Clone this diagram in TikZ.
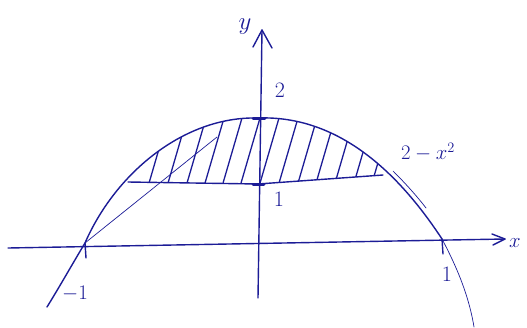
\documentclass[tikz,border=0pt]{standalone}
\definecolor{ink}{RGB}{28,28,150}
\begin{document}
\begin{tikzpicture}[x=1pt,y=-1pt,
  inkline/.style={draw=ink, line width=1.4pt, line cap=round, line join=round},
  thinink/.style={draw=ink, line width=0.7pt, line cap=round, line join=round},
  hatch/.style={draw=ink, line width=1.3pt, line cap=round},
  lab/.style={text=ink, font=\fontsize{22}{24}\selectfont, inner sep=0pt},
  smalllab/.style={text=ink, font=\fontsize{21}{24}\selectfont, inner sep=0pt}]
\useasboundingbox (0,0) rectangle (527,327);
% axes
\coordinate (xl) at (8,248);
\coordinate (xr) at (505,239);
\coordinate (xa1) at (492,234);
\coordinate (xa2) at (493,245);
\coordinate (yb) at (258,298);
\coordinate (yt) at (262,30);
\coordinate (ya1) at (253,47);
\coordinate (ya2) at (272,48);
\draw[inkline] (xl) -- (xr);
\draw[inkline] (xa1) -- (xr) -- (xa2);
\draw[inkline] (yb) -- (yt);
\draw[inkline] (ya1) -- (yt) -- (ya2);
% key points
\coordinate (lo) at (47,307);
\coordinate (m1) at (85,243);
\coordinate (p1) at (442,239);
\coordinate (top) at (258,118);
\coordinate (mid) at (258,184);
\coordinate (hl) at (128,182);
\coordinate (hr) at (383,175);
% hatching
\begin{scope}
\clip (m1) .. controls (116,172) and (185,116) .. (top) .. controls (340,115) and (400,175) .. (p1) -- cycle;
\clip (hl) -- (mid) -- (hr) -- (420,100) -- (100,100) -- cycle;
\foreach \x in {147,166,185,203,221,239,258,277,296,314,333,352,370}
  \draw[hatch] (\x,190) -- ({\x+21},118);
\end{scope}
% parabola
\draw[inkline] (lo) .. controls (60,286) and (70,268) .. (m1) .. controls (116,172) and (185,116) .. (top) .. controls (340,115) and (400,175) .. (p1);
\draw[thinink] (p1) .. controls (452,258) and (468,290) .. (474,327);
% extra strokes
\draw[thinink] (m1) -- (217,137);
\draw[thinink] (393,171) .. controls (405,183) and (416,195) .. (426,208);
% horizontal chord
\draw[inkline] (hl) -- (mid) -- (hr);
% ticks and dots
\draw[inkline] (m1) -- (86,258);
\draw[inkline] (p1) -- (443,254);
\draw[ink, line width=3pt, line cap=round] (253,118) -- (265,118);
\draw[ink, line width=3pt, line cap=round] (253,184) -- (264,184);
% labels
\node[lab] (l2) at (280,90) {2};
\node[lab] (l1) at (279,199) {1};
\node[smalllab] (lf) at (428,152) {$2-x^2$};
\node[lab] (lm1) at (75,294) {$-1$};
\node[lab] (lp1) at (447,274) {1};
\node[lab, font=\fontsize{26}{28}\selectfont] (ly) at (245,27) {$y$};
\node[lab] (lx) at (515,243) {$x$};
\end{tikzpicture}
\end{document}
